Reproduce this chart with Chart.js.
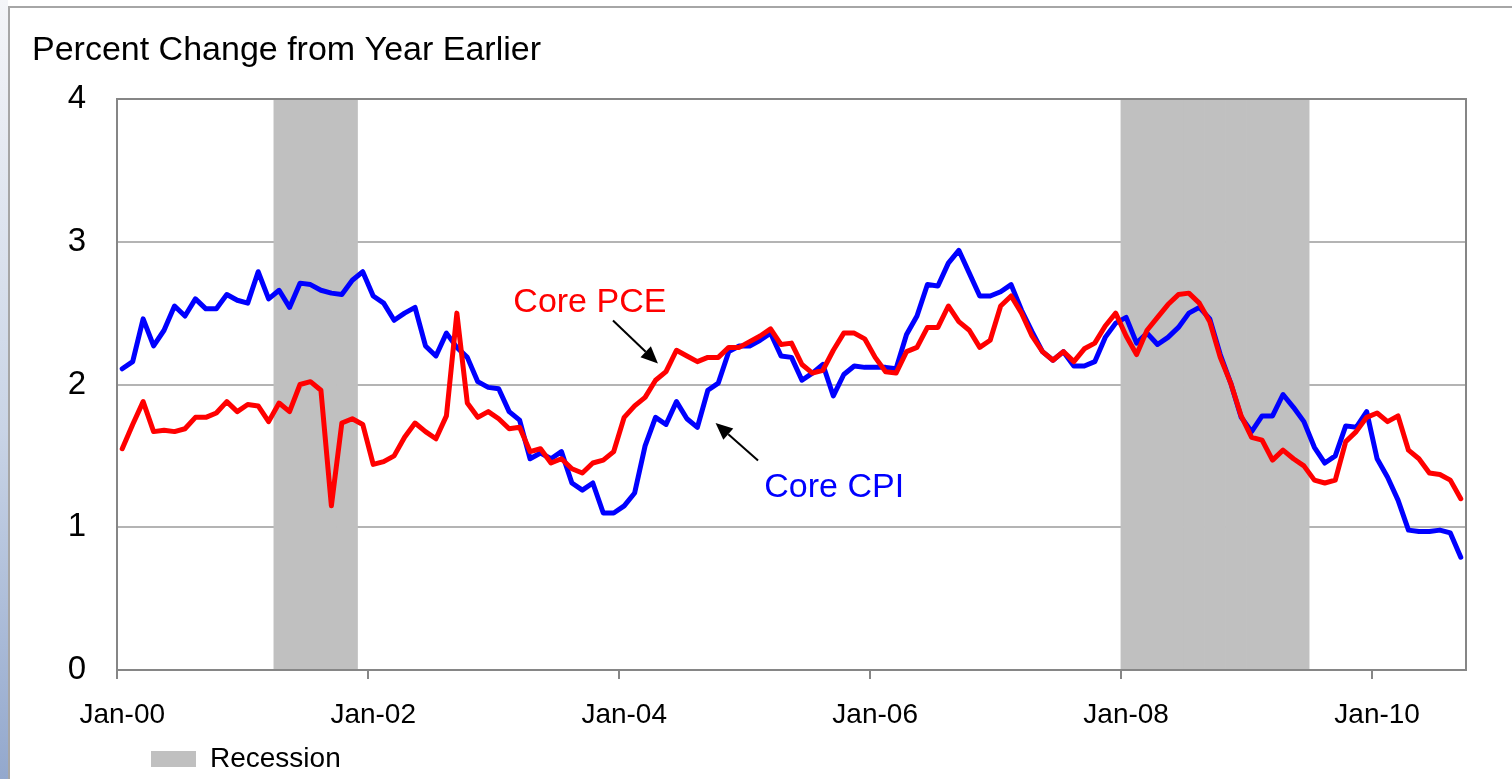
<!DOCTYPE html>
<html lang="en">
<head>
<meta charset="utf-8">
<title>Core PCE and Core CPI</title>
<script src="https://cdn.jsdelivr.net/npm/chart.js@4.4.1/dist/chart.umd.min.js"></script>
<style>
  html, body { margin: 0; padding: 0; background: #fff; overflow: hidden; }
  #strip { position: absolute; left: 0; top: 0; width: 8px; height: 779px;
           background: linear-gradient(#f4f5f8, #c9d4e6 55%, #93a8cd); }
  #frame { position: absolute; left: 8px; top: 6px; width: 1504px; height: 773px;
           border-left: 2px solid #a6a6a6; border-top: 2px solid #a6a6a6; box-sizing: border-box; }
  #myChart { position: absolute; left: 0; top: 0; }
</style>
</head>
<body>
<div id="strip"></div>
<div id="frame"></div>
<canvas id="myChart" width="1512" height="779"></canvas>
<script>
  // monthly categories, Jan-00 .. Sep-10
  var monthNames = ["Jan", "Feb", "Mar", "Apr", "May", "Jun", "Jul", "Aug", "Sep", "Oct", "Nov", "Dec"];
  var firstYear = 2000;
  var monthCount = 129;
  var labels = [];
  for (var i = 0; i < monthCount; i++) {
    var yy = String((firstYear + Math.floor(i / 12)) % 100).padStart(2, "0");
    labels.push(monthNames[i % 12] + "-" + yy);
  }
  var labelEvery = 24; // one tick label every two years

  // percent change from a year earlier
  var coreCPI = [
    2.11, 2.16, 2.46, 2.27, 2.38, 2.55, 2.48, 2.60, 2.53, 2.53, 2.63, 2.59,
    2.57, 2.79, 2.60, 2.66, 2.54, 2.71, 2.70, 2.66, 2.64, 2.63, 2.73, 2.79,
    2.62, 2.57, 2.45, 2.50, 2.54, 2.27, 2.20, 2.36, 2.26, 2.19, 2.02, 1.98,
    1.97, 1.81, 1.75, 1.48, 1.52, 1.48, 1.53, 1.31, 1.26, 1.31, 1.10, 1.10,
    1.15, 1.24, 1.57, 1.77, 1.72, 1.88, 1.76, 1.70, 1.96, 2.01, 2.23, 2.27,
    2.27, 2.31, 2.36, 2.20, 2.19, 2.03, 2.08, 2.14, 1.92, 2.07, 2.13, 2.12,
    2.12, 2.12, 2.11, 2.35, 2.48, 2.70, 2.69, 2.85, 2.94, 2.78, 2.62, 2.62,
    2.65, 2.70, 2.52, 2.37, 2.23, 2.17, 2.23, 2.13, 2.13, 2.16, 2.33, 2.43,
    2.47, 2.29, 2.36, 2.28, 2.33, 2.40, 2.50, 2.54, 2.46, 2.21, 2.01, 1.77,
    1.67, 1.78, 1.78, 1.93, 1.84, 1.74, 1.56, 1.45, 1.50, 1.71, 1.70, 1.81,
    1.48, 1.35, 1.19, 0.98, 0.97, 0.97, 0.98, 0.96, 0.79
  ];
  var corePCE = [
    1.55, 1.72, 1.88, 1.67, 1.68, 1.67, 1.69, 1.77, 1.77, 1.80, 1.88, 1.81,
    1.86, 1.85, 1.74, 1.87, 1.81, 2.00, 2.02, 1.96, 1.15, 1.73, 1.76, 1.72,
    1.44, 1.46, 1.50, 1.63, 1.73, 1.67, 1.62, 1.78, 2.50, 1.87, 1.77, 1.81,
    1.76, 1.69, 1.70, 1.53, 1.55, 1.45, 1.48, 1.41, 1.38, 1.45, 1.47, 1.53,
    1.77, 1.85, 1.91, 2.03, 2.09, 2.24, 2.20, 2.16, 2.19, 2.19, 2.26, 2.26,
    2.30, 2.34, 2.39, 2.28, 2.29, 2.14, 2.08, 2.10, 2.24, 2.36, 2.36, 2.32,
    2.19, 2.09, 2.08, 2.23, 2.26, 2.40, 2.40, 2.55, 2.44, 2.38, 2.26, 2.31,
    2.55, 2.62, 2.50, 2.34, 2.23, 2.17, 2.23, 2.16, 2.25, 2.29, 2.41, 2.50,
    2.34, 2.21, 2.38, 2.47, 2.56, 2.63, 2.64, 2.57, 2.44, 2.19, 2.01, 1.78,
    1.63, 1.61, 1.47, 1.54, 1.48, 1.43, 1.33, 1.31, 1.33, 1.60, 1.67, 1.77,
    1.80, 1.74, 1.78, 1.54, 1.48, 1.38, 1.37, 1.33, 1.20
  ];

  // recession shading, first and last shaded month
  var recessionStart = ["Apr-01", "Jan-08"];
  var recessionEnd = ["Nov-01", "Jun-09"];
  var recessionTop = 4;
  var recession = labels.map(function (l, idx) {
    for (var r = 0; r < recessionStart.length; r++) {
      if (idx >= labels.indexOf(recessionStart[r]) && idx <= labels.indexOf(recessionEnd[r])) return recessionTop;
    }
    return null;
  });

  var yMin = 0, yMax = 4, yStep = 1;

  // text notes with arrows, in axis units (category index, percent)
  var notes = [
    { text: "Core PCE", color: "#ff0000", at: [37.4, 2.506], from: [46.93, 2.449], to: [51.23, 2.147] },
    { text: "Core CPI", color: "#0000ff", at: [61.4, 1.211], from: [60.80, 1.4675], to: [56.74, 1.731] }
  ];

  var fontFamily = "'Liberation Sans', Arial, sans-serif";
  Chart.defaults.font.family = fontFamily;
  Chart.defaults.color = "#000";

  // plot frame plus the two callouts
  var extras = {
    id: "extras",
    afterDatasetsDraw: function (chart) {
      var ctx = chart.ctx, a = chart.chartArea, xs = chart.scales.x, ys = chart.scales.y;
      ctx.save();
      ctx.strokeStyle = "#868686";
      ctx.lineWidth = 2;
      ctx.strokeRect(a.left, a.top, a.right - a.left, a.bottom - a.top);

      notes.forEach(function (n) {
        ctx.font = "34px " + fontFamily;
        ctx.fillStyle = n.color;
        ctx.textAlign = "left";
        ctx.textBaseline = "alphabetic";
        ctx.fillText(n.text, xs.getPixelForValue(n.at[0]), ys.getPixelForValue(n.at[1]));

        var x1 = xs.getPixelForValue(n.from[0]), y1 = ys.getPixelForValue(n.from[1]);
        var x2 = xs.getPixelForValue(n.to[0]), y2 = ys.getPixelForValue(n.to[1]);
        var ang = Math.atan2(y2 - y1, x2 - x1);
        var headLen = 17, headHalf = 7.5;
        var bx = x2 - headLen * Math.cos(ang), by = y2 - headLen * Math.sin(ang);
        ctx.strokeStyle = "#000";
        ctx.lineWidth = 2;
        ctx.beginPath();
        ctx.moveTo(x1, y1);
        ctx.lineTo(bx, by);
        ctx.stroke();
        ctx.fillStyle = "#000";
        ctx.beginPath();
        ctx.moveTo(x2, y2);
        ctx.lineTo(bx + headHalf * Math.sin(ang), by - headHalf * Math.cos(ang));
        ctx.lineTo(bx - headHalf * Math.sin(ang), by + headHalf * Math.cos(ang));
        ctx.closePath();
        ctx.fill();
      });
      ctx.restore();
    }
  };

  // the legend sits a little in from the plot's left edge
  var legendIndent = 24;
  var legendShift = {
    id: "legendShift",
    afterLayout: function (chart) {
      if (!chart.legend) return;
      chart.legend.left += legendIndent;
      chart.legend.right += legendIndent;
    }
  };

  var ctx = document.getElementById("myChart").getContext("2d");
  new Chart(ctx, {
    type: "bar",
    data: {
      labels: labels,
      datasets: [
        {
          type: "line", label: "Core PCE", data: corePCE, order: 0,
          borderColor: "#ff0000", borderWidth: 5, pointRadius: 0, tension: 0,
          borderJoinStyle: "round", borderCapStyle: "round", fill: false
        },
        {
          type: "line", label: "Core CPI", data: coreCPI, order: 1,
          borderColor: "#0000ff", borderWidth: 5, pointRadius: 0, tension: 0,
          borderJoinStyle: "round", borderCapStyle: "round", fill: false
        },
        {
          type: "bar", label: "Recession", data: recession, order: 2,
          backgroundColor: "#c0c0c0", borderWidth: 0,
          barPercentage: 1, categoryPercentage: 1
        }
      ]
    },
    options: {
      responsive: false,
      animation: false,
      layout: { padding: { left: 32, right: 46, top: 0, bottom: -4 } },
      plugins: {
        title: {
          display: true, text: "Percent Change from Year Earlier", align: "start",
          color: "#000", font: { size: 34, weight: "normal" },
          padding: { top: 30, bottom: 28.2 }
        },
        legend: {
          position: "bottom", align: "start", fullSize: false,
          labels: {
            filter: function (item) { return item.text === "Recession"; },
            boxWidth: 45, boxHeight: 16, padding: 10,
            color: "#000", font: { size: 28 }
          }
        },
        tooltip: { enabled: false }
      },
      scales: {
        x: {
          offset: true,
          border: { display: false },
          grid: {
            offset: true, drawOnChartArea: false, drawTicks: true, tickLength: 9, lineWidth: 2,
            color: function (c) { return c.index % labelEvery === 0 ? "#868686" : "rgba(0,0,0,0)"; }
          },
          ticks: {
            autoSkip: false, maxRotation: 0, minRotation: 0, padding: 19.5,
            color: "#000", font: { size: 28 },
            callback: function (v, idx) { return idx % labelEvery === 0 ? labels[idx] : ""; }
          },
          afterFit: function (s) { s.height = 65; }
        },
        y: {
          min: yMin, max: yMax,
          border: { display: false },
          grid: { color: "#b4b4b4", lineWidth: 2, drawTicks: false },
          ticks: { stepSize: yStep, padding: 31, color: "#000", font: { size: 33 } },
          afterFit: function (s) { s.width = 85; }
        }
      }
    },
    plugins: [extras, legendShift]
  });
</script>
</body>
</html>
